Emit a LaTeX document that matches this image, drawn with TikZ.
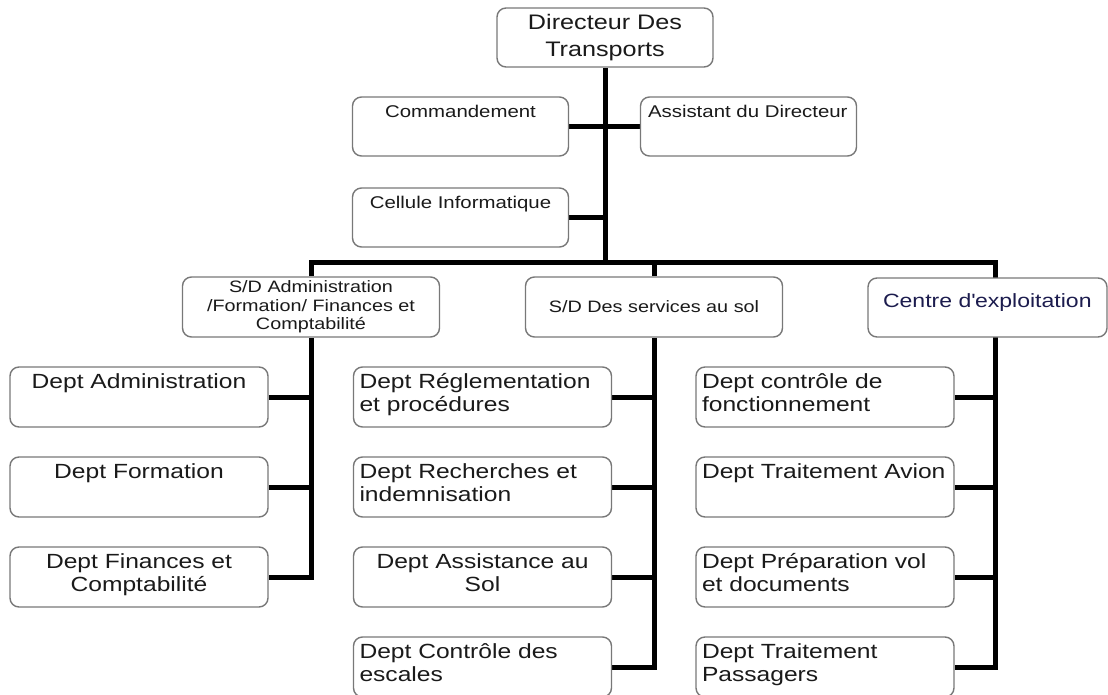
\documentclass[tikz,border=0pt]{standalone}
\usepackage{fontspec}
\setmainfont{Liberation Sans}[FakeStretch=1.2]
\usetikzlibrary{backgrounds}
\definecolor{boxgray}{HTML}{787878}
\definecolor{inkgray}{HTML}{1A1A1A}
\definecolor{ctrblue}{HTML}{1C1C4E}
\newcommand{\deptL}[1]{\parbox[c][50pt][t]{256pt}{\raggedright\leftskip=5pt\strut #1}}
\newcommand{\deptC}[1]{\parbox[c][50pt][t]{256pt}{\centering\strut #1}}
\newcommand{\staffL}[1]{\parbox[c][45pt][t]{213pt}{\raggedright\leftskip=6pt\strut #1}}
\newcommand{\staffC}[1]{\parbox[c][45pt][t]{213pt}{\centering\strut #1}}

\begin{document}
\begin{tikzpicture}[x=1pt, y=-1pt]
\tikzstyle{box}=[draw=boxgray, line width=1.4pt, rounded corners=9pt, fill=white, text=inkgray, inner sep=0pt]
\tikzstyle{dept}=[box, minimum width=258pt, minimum height=60pt, font=\fontsize{20.5}{23}\selectfont]
\tikzstyle{staff}=[box, minimum width=216pt, minimum height=59pt, font=\fontsize{17}{20}\selectfont]
\tikzstyle{sdbox}=[box, minimum width=257pt, minimum height=60pt, align=center, font=\fontsize{16.5}{18.3}\selectfont]
\tikzstyle{link}=[draw=black, line width=5pt]
\useasboundingbox (0,0) rectangle (1108,695);
\node[box, minimum width=216pt, minimum height=59pt, align=center, font=\fontsize{21}{27}\selectfont] (dir) at (605,37.5) {Directeur Des\\Transports};
\node[staff] (cmd)  at (460.5,126.5) {\staffC{Commandement}};
\node[staff] (asst) at (748.5,126.5) {\staffL{Assistant du Directeur}};
\node[staff] (cell) at (460.5,217.5) {\staffC{Cellule Informatique}};
\coordinate (barR) at (995,262);
\node[sdbox] (sda) at (311,307) {S/D Administration\\/Formation/ Finances et\\Comptabilité};
\node[sdbox] (sds) at (654,307) {S/D Des services au sol};
\node[box, minimum width=239pt, minimum height=59pt, text=ctrblue, font=\fontsize{19.2}{22.4}\selectfont] (ctr) at (987.5,307.5)
  {\parbox[c][30.4pt][t]{235pt}{\raggedright\leftskip=13pt\strut Centre d\textquotesingle exploitation}};
\node[dept] (adm)   at (139,397)   {\deptC{Dept Administration}};
\node[dept] (frm)   at (139,487)   {\deptC{Dept Formation}};
\node[dept] (fin)   at (139,577)   {\deptC{Dept Finances et\\Comptabilité}};
\node[dept] (reg)   at (482.5,397) {\deptL{Dept Réglementation\\et procédures}};
\node[dept] (rech)  at (482.5,487) {\deptL{Dept Recherches et\\indemnisation}};
\node[dept] (assis) at (482.5,577) {\deptC{Dept Assistance au\\Sol}};
\node[dept] (esc)   at (482.5,667) {\deptL{Dept Contrôle des\\escales}};
\node[dept] (ctl)   at (825,397)   {\deptL{Dept contrôle de\\fonctionnement}};
\node[dept] (avn)   at (825,487)   {\deptL{Dept Traitement Avion}};
\node[dept] (prep)  at (825,577)   {\deptL{Dept Préparation vol\\et documents}};
\node[dept] (pas)   at (825,667)   {\deptL{Dept Traitement\\Passagers}};
\begin{scope}[on background layer]
\draw[link] (dir.south) -- (dir.south |- barR);
\draw[link] (cmd.east) -- (asst.west);
\draw[link] (cell.east) -- (cell.east -| dir.south);
\draw[link] (sda.north) |- (barR) -- (barR |- pas.east) -- (pas.east);
\draw[link] (sds.north) -- (sds.north |- barR);
\draw[link] (sda.south) |- (fin.east);
\draw[link] (sds.south) |- (esc.east);
\foreach \d in {adm, frm} \draw[link] (\d.east) -- (\d.east -| sda.south);
\foreach \d in {reg, rech, assis} \draw[link] (\d.east) -- (\d.east -| sds.south);
\foreach \d in {ctl, avn, prep} \draw[link] (\d.east) -- (\d.east -| barR);
\end{scope}
\end{tikzpicture}
\end{document}
